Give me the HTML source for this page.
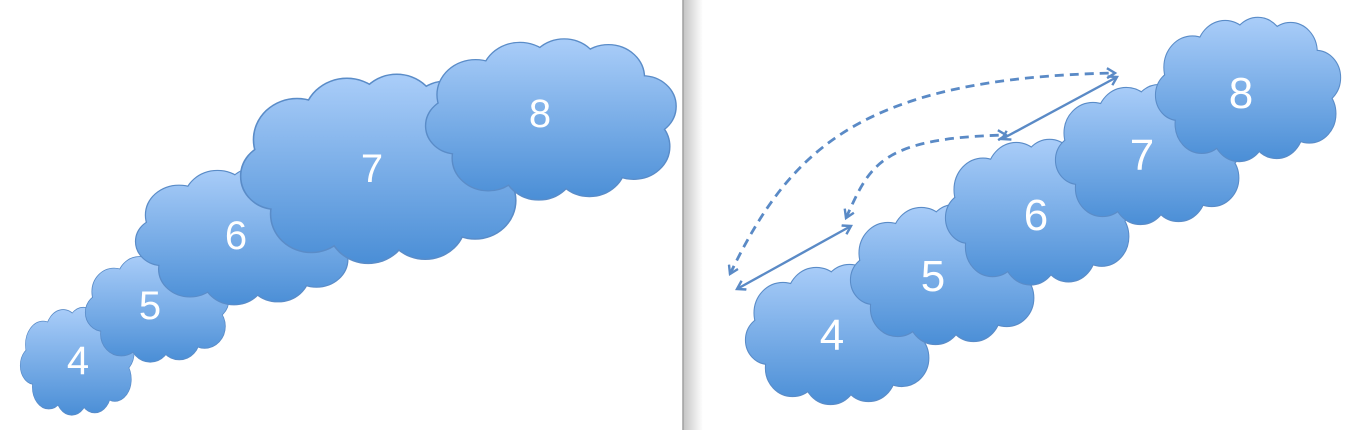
<!DOCTYPE html>
<html><head><meta charset="utf-8"><style>
html,body{margin:0;padding:0;background:#fff;width:1358px;height:430px;overflow:hidden}
</style></head><body>
<svg width="1358" height="430" xmlns="http://www.w3.org/2000/svg" style="display:block">
<defs>
<linearGradient id="g" gradientUnits="userSpaceOnUse" x1="0" y1="0" x2="0" y2="137">
<stop offset="0" stop-color="#a8ccf8"/><stop offset="1" stop-color="#4a8ed6"/></linearGradient>
<linearGradient id="sh" x1="0" y1="0" x2="1" y2="0">
<stop offset="0" stop-color="#c4c4c4"/><stop offset="1" stop-color="#ffffff"/></linearGradient>
<g id="c">
<g stroke="#5a8cc8" stroke-width="2.2" fill="url(#g)">
<circle cx="40" cy="45" r="30"/><circle cx="75" cy="30" r="30"/><circle cx="110" cy="25" r="28"/><circle cx="145" cy="30" r="28"/><circle cx="172" cy="55" r="26"/><circle cx="165" cy="90" r="28"/><circle cx="130" cy="105" r="28"/><circle cx="90" cy="108" r="28"/><circle cx="50" cy="100" r="28"/><circle cx="25" cy="72" r="24"/>
</g>
<g fill="url(#g)">
<circle cx="40" cy="45" r="30"/><circle cx="75" cy="30" r="30"/><circle cx="110" cy="25" r="28"/><circle cx="145" cy="30" r="28"/><circle cx="172" cy="55" r="26"/><circle cx="165" cy="90" r="28"/><circle cx="130" cy="105" r="28"/><circle cx="90" cy="108" r="28"/><circle cx="50" cy="100" r="28"/><circle cx="25" cy="72" r="24"/><circle cx="100" cy="68" r="55"/>
</g>
</g>
<marker id="a" markerWidth="12" markerHeight="12" refX="9" refY="6" orient="auto-start-reverse" markerUnits="userSpaceOnUse"><path d="M1,1 L9,6 L1,11" fill="none" stroke="#5a8ac6" stroke-width="2.4"/></marker>
</defs>
<rect x="683" y="0" width="20" height="430" fill="url(#sh)"/>
<line x1="683" y1="0" x2="683" y2="430" stroke="#a0a0a0" stroke-width="1.5"/>
<g>
<use href="#c" transform="translate(20,310) scale(0.575,0.77)"/>
<use href="#c" transform="translate(85,257) scale(0.725,0.77)"/>
<use href="#c" transform="translate(135,171) scale(1.1,0.98)"/>
<use href="#c" transform="translate(240,79) scale(1.425,1.35)"/>
<use href="#c" transform="translate(425,43) scale(1.265,1.15)"/>
</g>
<g font-family="Liberation Sans, sans-serif" fill="#fff" text-anchor="middle" font-size="40">
<text x="78" y="374">4</text><text x="150" y="319">5</text><text x="236" y="249">6</text><text x="372" y="182">7</text><text x="540" y="127">8</text>
</g>
<g>
<use href="#c" transform="translate(745,268) scale(0.95,1.0)"/>
<use href="#c" transform="translate(850,208) scale(0.95,1.0)"/>
<use href="#c" transform="translate(945,143) scale(0.95,1.04)"/>
<use href="#c" transform="translate(1055,88) scale(0.95,1.0)"/>
<use href="#c" transform="translate(1155,21) scale(0.935,1.03)"/>
</g>
<g font-family="Liberation Sans, sans-serif" fill="#fff" text-anchor="middle" font-size="44">
<text x="832" y="350">4</text><text x="933" y="291">5</text><text x="1036" y="230">6</text><text x="1142" y="170">7</text><text x="1241" y="108">8</text>
</g>
<g stroke="#5a8ac6" stroke-width="2.4" fill="none">
<line x1="737" y1="289" x2="851" y2="226" marker-start="url(#a)" marker-end="url(#a)"/>
<line x1="1002" y1="139" x2="1117" y2="77" marker-start="url(#a)" marker-end="url(#a)"/>
<path d="M730,274 C790,150 860,78 1115,73" stroke-dasharray="9 6" stroke-width="2.8" marker-start="url(#a)" marker-end="url(#a)"/>
<path d="M846,218 C870,165 880,138 1006,135" stroke-dasharray="9 6" stroke-width="2.8" marker-start="url(#a)" marker-end="url(#a)"/>
</g>
</svg>
</body></html>
